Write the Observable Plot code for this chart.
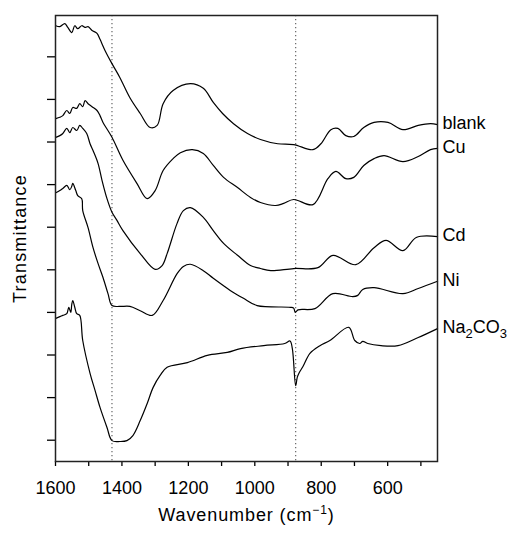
<!DOCTYPE html>
<html><head><meta charset="utf-8">
<script src="https://cdn.jsdelivr.net/npm/d3@7"></script>
<script src="https://cdn.jsdelivr.net/npm/@observablehq/plot@0.6"></script>
<style>body{margin:0;background:#fff}</style>
</head><body><div id="chart"></div>
<script>
// Wavenumbers (cm-1) and transmittance (a.u., one y-tick = 10)
const blankW = [1599,1587,1572,1563,1551,1542,1533,1521,1511,1502,1490,1475,1466,1451,1430,1406,1376,1345,1315,1294,1276,1246,1194,1155,1125,1097,1064,1022,983,931,883,825,801,771,750,726,702,672,641,599,554,508,471,450];
const blankT = [102.3,102.1,102.8,101.9,100.7,102.3,101.6,102.3,101.9,102.1,101.2,100.5,99.1,96.5,93.4,90.1,85.4,81.7,78.4,78.9,84.0,87.1,88.7,87.6,84.3,81.7,79.3,77.0,75.6,74.6,74.4,73.2,74.6,77.9,78.2,76.5,76.3,78.4,79.6,79.6,77.9,78.9,79.3,79.1];

const cuW = [1599,1587,1578,1566,1557,1548,1536,1527,1518,1511,1502,1490,1475,1466,1457,1430,1397,1355,1324,1300,1276,1246,1224,1188,1155,1125,1094,1052,1013,983,937,913,883,825,780,756,726,702,672,641,611,554,508,471,450];
const cuT = [80.5,80.8,81.2,82.4,81.7,83.1,82.9,84.0,83.3,84.7,84.0,83.3,82.4,81.2,79.6,76.1,70.7,65.3,61.7,63.6,68.3,71.1,72.5,73.2,72.3,69.5,66.7,64.3,62.0,60.8,60.1,60.6,61.5,60.3,66.4,68.1,66.4,66.7,69.5,71.1,71.8,70.4,71.6,73.2,73.5];

const cdW = [1599,1587,1578,1566,1557,1548,1536,1527,1518,1506,1496,1487,1472,1460,1445,1430,1415,1397,1345,1300,1279,1264,1234,1215,1194,1155,1125,1094,1052,1013,983,952,883,810,765,696,641,605,554,514,450];
const cdT = [76.1,76.5,77.0,78.2,77.2,78.4,77.7,78.9,78.2,77.0,74.6,73.0,70.0,66.0,61.7,58.5,56.6,54.2,48.8,45.1,46.0,48.8,55.9,58.9,59.6,57.3,54.2,51.2,48.4,46.0,45.3,44.8,45.3,45.5,48.4,46.2,50.2,51.9,49.5,52.6,52.8];

const niW = [1599,1587,1578,1566,1557,1551,1548,1539,1533,1521,1518,1502,1487,1472,1457,1442,1430,1406,1376,1345,1309,1276,1234,1215,1194,1155,1125,1073,1034,993,893,883,878,870,819,765,705,690,675,641,554,508,450];
const niT = [63.1,63.6,64.1,64.8,63.8,64.6,65.3,63.6,62.4,61.7,58.9,54.9,50.2,46.5,43.2,39.4,36.6,36.4,36.4,35.4,34.3,37.8,44.1,45.8,46.3,44.8,43.0,40.1,38.3,36.6,36.2,36.0,35.0,35.6,35.9,39.4,38.7,39.0,40.4,40.8,39.4,40.6,42.3];

const na2co3W = [1599,1587,1578,1566,1560,1554,1551,1548,1542,1536,1527,1518,1496,1481,1466,1445,1430,1406,1385,1367,1345,1324,1306,1285,1264,1203,1143,1083,1043,973,910,894,887,877,872,866,855,834,804,774,717,699,684,675,660,620,569,508,450];
const na2co3T = [33.6,34.0,34.3,34.7,36.2,35.0,36.9,37.8,36.2,34.7,34.3,28.4,20.7,16.7,12.7,8.0,4.9,4.7,4.9,6.1,9.6,13.6,17.4,20.2,22.1,23.2,24.9,25.6,26.5,27.2,27.7,28.3,26.5,17.8,19.8,20.9,22.3,25.4,27.2,28.4,31.5,28.4,27.7,28.2,27.7,27.2,27.2,29.1,31.2];

const seriesNames = ["blank","Cu","Cd","Ni","Na2CO3"];
const markerLines = [1430, 877];
const xTicks = [1600,1500,1400,1300,1200,1100,1000,900,800,700,600,500];
const xTickLabels = [1600,1400,1200,1000,800,600];
const yTicks = [5,15,25,35,45,55,65,75,85,95];

const seriesData = [[blankW,blankT],[cuW,cuT],[cdW,cdT],[niW,niT],[na2co3W,na2co3T]];
const rows = seriesData.flatMap(([W,T],k) => W.map((w,i) => ({series: seriesNames[k], w, t: T[i]})));
const ends = seriesData.map(([W,T],k) => ({series: seriesNames[k], w: W[W.length-1], t: T[T.length-1]}));

const plot = Plot.plot({
  width: 513, height: 533,
  marginLeft: 55, marginRight: 76, marginTop: 15, marginBottom: 72,
  style: {fontFamily: "'Liberation Sans', Arial, sans-serif", fontSize: "18px", background: "#fff", color: "#000"},
  x: {domain: [1600, 450]},
  y: {domain: [0, 104.7]},
  marks: [
    Plot.ruleX(markerLines, {stroke: "#666", strokeDasharray: "1.3,2.7", strokeWidth: 1.2}),
    Plot.line(rows, {x: "w", y: "t", z: "series", stroke: "#000", strokeWidth: 1.2, curve: "catmull-rom"}),
    Plot.axisX({ticks: xTicks, tickFormat: d => xTickLabels.includes(d) ? String(d) : "", tickSize: 5, tickPadding: 15, strokeWidth: 1.3,
      label: "Wavenumber (cm−1)", labelAnchor: "center", labelArrow: "none", labelOffset: 59}),
    Plot.axisY({ticks: yTicks, tickFormat: () => "", tickSize: 8, strokeWidth: 1.3,
      label: "Transmittance", labelAnchor: "center", labelArrow: "none", labelOffset: 42}),
    Plot.frame({stroke: "#222", strokeWidth: 1.5}),
    Plot.text(ends, {x: "w", y: "t", text: "series", textAnchor: "start", dx: 5, dy: -1, fontSize: 18})
  ]
});

// subscripts / superscripts as real text
plot.querySelectorAll("text").forEach(t => {
  if (t.textContent === "Na2CO3") {
    t.innerHTML = 'Na<tspan dy="5" font-size="13">2</tspan><tspan dy="-5">CO</tspan><tspan dy="5" font-size="13">3</tspan>';
  } else if (t.textContent === "Wavenumber (cm−1)") {
    t.innerHTML = 'Wavenumber (cm<tspan dy="-7" font-size="12">−1</tspan><tspan dy="7">)</tspan>';
    t.setAttribute("letter-spacing", "0.9");
  } else if (t.textContent === "Transmittance") {
    t.setAttribute("letter-spacing", "1.2");
  }
});
document.getElementById("chart").appendChild(plot);
</script>
</body></html>
